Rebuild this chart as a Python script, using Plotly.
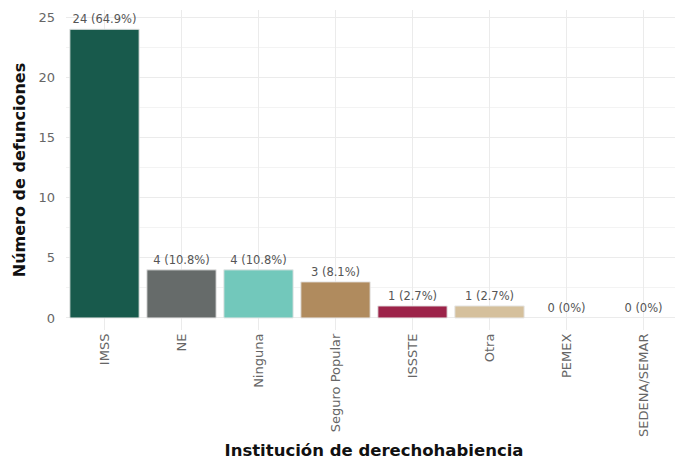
import plotly.graph_objects as go

# Datos
instituciones = ["IMSS", "NE", "Ninguna", "Seguro Popular", "ISSSTE", "Otra", "PEMEX", "SEDENA/SEMAR"]
defunciones = [24, 4, 4, 3, 1, 1, 0, 0]
colores = ["#185a4c", "#666b6a", "#72c8bb", "#b08b5e", "#9c2349", "#d5c09c", "#cccccc", "#cccccc"]

total = sum(defunciones)
etiquetas = []
for v in defunciones:
    p = round(100 * v / total, 1)
    etiquetas.append(f"{v} ({p:g}%)")

fig = go.Figure()

fig.add_trace(go.Bar(
    x=instituciones,
    y=defunciones,
    marker=dict(color=colores,
                line=dict(color="#e6e6e6", width=[1 if v > 0 else 0 for v in defunciones])),
    text=etiquetas,
    textposition="outside",
    cliponaxis=False,
    textfont=dict(family="DejaVu Sans", size=11.5, color="#555555"),
    hoverinfo="x+y",
))

# la página tiene un margen de 8 px, se compensa aquí
fig.update_layout(
    width=683, height=461,
    margin=dict(l=58, r=9, t=2, b=139, autoexpand=False),
    plot_bgcolor="white",
    paper_bgcolor="white",
    bargap=0.1,
    showlegend=False,
    font=dict(family="DejaVu Sans", color="#555555"),
)

fig.update_xaxes(
    automargin=False,
    tickangle=-90,
    tickfont=dict(size=13, color="#666666"),
    showgrid=True, gridcolor="#ebebeb", gridwidth=1,
    ticks="", showline=False, zeroline=False,
    title=dict(text="<b>Institución de derechohabiencia</b>", standoff=8,
               font=dict(size=16.5, color="#111111")),
)

fig.update_yaxes(
    automargin=False,
    range=[-1.0, 25.6],
    tickvals=[0, 5, 10, 15, 20, 25],
    tickfont=dict(size=13, color="#666666"),
    ticklabelstandoff=10,
    showgrid=True, gridcolor="#ebebeb", gridwidth=1,
    minor=dict(tickvals=[2.5, 7.5, 12.5, 17.5, 22.5], showgrid=True, gridcolor="#f3f3f3", gridwidth=1),
    zeroline=False, showline=False, ticks="",
    title=dict(text="<b>Número de defunciones</b>", standoff=8,
               font=dict(size=16, color="#111111")),
)

fig.write_html("out.html")
